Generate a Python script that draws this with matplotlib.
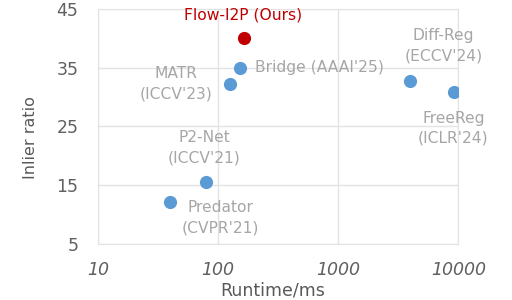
import matplotlib
matplotlib.use("Agg")
import matplotlib.pyplot as plt
import numpy as np

# runtime (ms) vs inlier ratio (%)
methods = ["Flow-I2P (Ours)", "Bridge (AAAI'25)", "MATR\n(ICCV'23)", "P2-Net\n(ICCV'21)",
           "Predator\n(CVPR'21)", "Diff-Reg\n(ECCV'24)", "FreeReg\n(ICLR'24)"]
runtime = [165, 152, 126, 80, 40, 4000, 9300]
inlier = [40.0, 35.0, 32.3, 15.6, 12.1, 32.8, 30.8]
ours = [True, False, False, False, False, False, False]

# label anchor (x, y in data units) + horizontal alignment
label_pos = [
    (163, 44.0, "center"),
    (203, 35.0, "left"),
    (44.7, 32.3, "center"),
    (76.5, 21.4, "center"),
    (105, 9.5, "center"),
    (7500, 38.8, "center"),
    (9090, 24.7, "center"),
]

x_ticks = [10, 100, 1000, 10000]
y_ticks = [5, 15, 25, 35, 45]

plt.rcParams['font.family'] = ['DejaVu Sans']

fig = plt.figure(figsize=(5.12, 3.0), dpi=100)
ax = fig.add_axes([0.191, 0.187, 0.704, 0.783])

ax.set_xscale("log")
ax.set_xlim(10, 10000)
ax.set_ylim(5, 45)
ax.set_xticks(x_ticks)
ax.set_xticklabels([str(t) for t in x_ticks], fontstyle="italic")
ax.set_yticks(y_ticks)
ax.minorticks_off()
ax.grid(True, color="#e3e3e3", linewidth=1.0)
ax.set_axisbelow(True)
for s in ax.spines.values():
    s.set_color("#e3e3e3")
ax.tick_params(length=0, colors="#606060", labelsize=12.5)
ax.tick_params(axis="x", pad=12)
ax.tick_params(axis="y", pad=14)

for i in range(len(methods)):
    c = "#c00000" if ours[i] else "#5b9bd5"
    ax.plot(runtime[i], inlier[i], "o", color=c, markersize=9.5, markeredgewidth=0,
            zorder=3)
    lx, ly, ha = label_pos[i]
    tc = "#c00000" if ours[i] else "#a6a6a6"
    ax.text(lx, ly, methods[i], color=tc, fontsize=11.2, ha=ha, va="center",
            linespacing=1.45)

ax.set_xlabel("Runtime/ms", color="#595959", fontsize=12.5)
ax.xaxis.set_label_coords(0.485, -0.162)
ax.set_ylabel("Inlier ratio", color="#595959", fontsize=11.5)
ax.yaxis.set_label_coords(-0.167, 0.451)

fig.savefig("out.png", dpi=100)
